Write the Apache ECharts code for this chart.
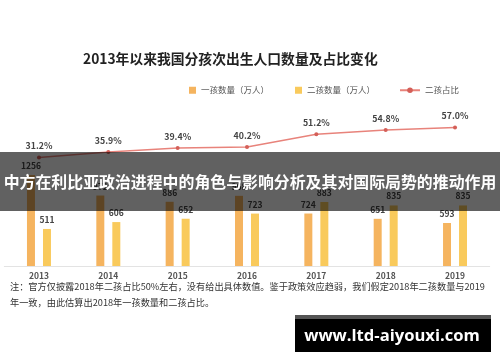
<!DOCTYPE html>
<html>
<head>
<meta charset="utf-8">
<script src="https://cdn.jsdelivr.net/npm/echarts@6/dist/echarts.min.js"></script>
<style>
html,body{margin:0;padding:0;background:#fff;}
#main{width:500px;height:362px;}
</style>
</head>
<body>
<div id="main"></div>
<script>
var years = ['2013','2014','2015','2016','2017','2018','2019'];
var firstChild = [1256, 972, 886, 968, 724, 651, 593];
var secondChild = [511, 606, 652, 723, 883, 835, 835];
var secondShare = [31.2, 35.9, 39.4, 40.2, 51.2, 54.8, 57.0];
var titleText = '2013年以来我国分孩次出生人口数量及占比变化';
var noteLines = ['注：官方仅披露2018年二孩占比50%左右，没有给出具体数值。鉴于政策效应趋弱，我们假定2018年二孩数量与2019', '年一致，由此估算出2018年一孩数量和二孩占比。'];
var bannerText = '中方在利比亚政治进程中的角色与影响分析及其对国际局势的推动作用';
var watermarkText = 'www.ltd-aiyouxi.com';

var FONT = '"Noto Sans CJK SC", "Noto Sans", sans-serif';
var chart = echarts.init(document.getElementById('main'), null, {renderer: 'canvas'});
var legendText = {fontSize: 8.5, color: '#555', fontFamily: FONT};
chart.setOption({
  animation: false,
  backgroundColor: '#fff',
  textStyle: {fontFamily: FONT},
  title: {
    text: titleText, left: 83, top: 52, padding: 0,
    textStyle: {fontSize: 13.8, fontWeight: 'bold', color: '#222', fontFamily: FONT}
  },
  legend: [
    {data: ['一孩数量（万人）'], left: 189, top: 86, itemWidth: 7, itemHeight: 7, icon: 'rect', textStyle: legendText, padding: 0},
    {data: ['二孩数量（万人）'], left: 295, top: 86, itemWidth: 7, itemHeight: 7, icon: 'rect', textStyle: legendText, padding: 0},
    {data: ['二孩占比'], left: 399, top: 86, itemWidth: 20, itemHeight: 7, textStyle: legendText, padding: 0}
  ],
  grid: {left: 4.3, right: 10.3, top: 110, bottom: 96, containLabel: false},
  xAxis: {
    type: 'category', data: years, boundaryGap: true,
    axisLine: {lineStyle: {color: '#e3e3e3', width: 1}},
    axisTick: {show: false},
    axisLabel: {fontSize: 8.5, fontWeight: 'bold', color: '#555', margin: 6, fontFamily: FONT}
  },
  yAxis: [
    {type: 'value', min: 0, max: 2152, show: false, splitLine: {show: false}},
    {type: 'value', min: -62, max: 72, show: false, splitLine: {show: false}}
  ],
  series: [
    {
      name: '一孩数量（万人）', type: 'bar', data: firstChild, barWidth: 8, barGap: '100%',
      itemStyle: {color: '#F5B45F'},
      label: {show: true, position: 'top', distance: 5, fontSize: 8.5, fontWeight: 'bold', color: '#444', fontFamily: FONT}
    },
    {
      name: '二孩数量（万人）', type: 'bar', data: secondChild, barWidth: 8, barGap: '100%',
      itemStyle: {color: '#F9CA5C'},
      label: {show: true, position: 'top', distance: 5, fontSize: 8.5, fontWeight: 'bold', color: '#444', fontFamily: FONT}
    },
    {
      name: '二孩占比', type: 'line', yAxisIndex: 1, data: secondShare,
      symbol: 'circle', symbolSize: 4,
      lineStyle: {color: '#E8837B', width: 1.5},
      itemStyle: {color: '#D45F58'},
      label: {show: true, position: 'top', distance: 5, fontSize: 8.8, fontWeight: 'bold', color: '#444', fontFamily: FONT,
        formatter: function (p) { return p.value.toFixed(1) + '%'; }}
    }
  ],
  graphic: [
    {type: 'text', left: 10, top: 279, silent: true,
     style: {text: noteLines.join('\n'), fontSize: 9.2, lineHeight: 15.5, fill: '#333', fontFamily: FONT}},
    {type: 'rect', shape: {x: 0, y: 152, width: 500, height: 59}, z: 100, silent: true,
     style: {fill: 'rgba(0,0,0,0.62)'}},
    {type: 'text', x: 250, y: 181.5, z: 101, silent: true,
     style: {text: bannerText, fontSize: 15.9, fontWeight: 'bold', fill: '#fff', align: 'center', verticalAlign: 'middle', fontFamily: FONT}},
    {type: 'rect', shape: {x: 295, y: 315, width: 196, height: 4}, z: 100, silent: true, style: {fill: '#555'}},
    {type: 'rect', shape: {x: 295, y: 319, width: 196, height: 33}, z: 100, silent: true, style: {fill: '#000'}},
    {type: 'text', x: 392, y: 336, z: 101, silent: true,
     style: {text: watermarkText, fontSize: 16.6, fontWeight: 'bold', fill: '#fff', align: 'center', verticalAlign: 'middle', fontFamily: '"Open Sans", "DejaVu Sans", sans-serif'}}
  ]
});
</script>
</body>
</html>
